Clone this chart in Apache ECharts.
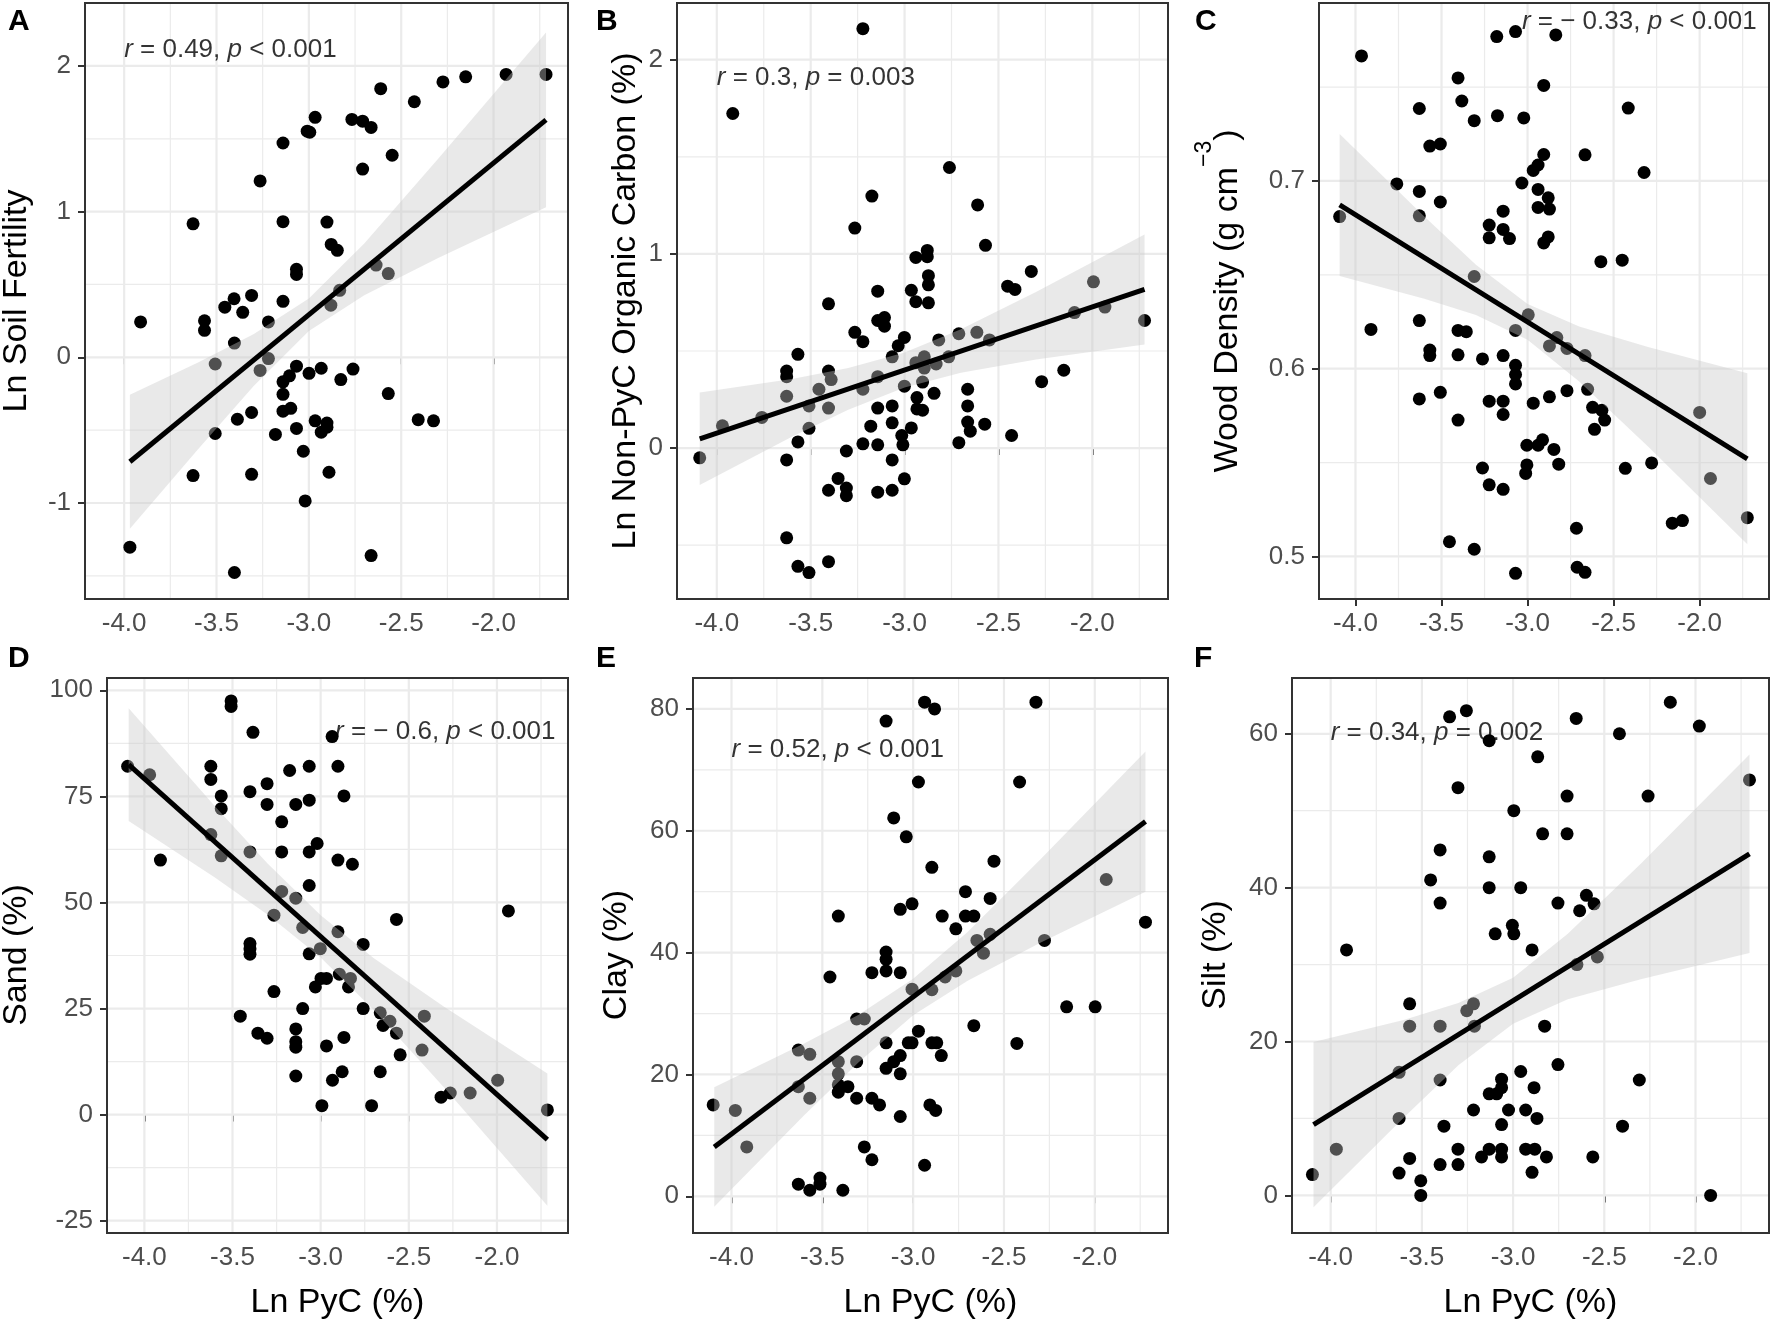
<!DOCTYPE html>
<html>
<head>
<meta charset="utf-8">
<script src="https://cdn.jsdelivr.net/npm/echarts@6/dist/echarts.min.js"></script>
<style>
  html, body { margin: 0; padding: 0; background: #fff; }
  #chart { width: 1772px; height: 1321px; }
</style>
</head>
<body>
<div id="chart"></div>
<script>
// ---- axis breaks ----
var xMajor = [-4, -3.5, -3, -2.5, -2];
var xMinor = [-3.75, -3.25, -2.75, -2.25, -1.75];

// ---- A: Ln soil fertility ----
var soilFertility = [[-3.969,-1.303],[-3.911,0.243],[-3.627,0.916],[-3.627,-0.812],[-3.565,0.251],[-3.565,0.185],[-3.507,-0.046],[-3.507,-0.523],[-3.455,0.344],[-3.405,0.402],[-3.403,0.098],[-3.387,-0.425],[-3.403,-1.477],[-3.358,0.309],[-3.31,0.425],[-3.31,-0.379],[-3.31,-0.803],[-3.264,1.211],[-3.264,-0.09],[-3.219,0.243],[-3.219,-0.009],[-3.181,-0.529],[-3.14,1.471],[-3.14,0.931],[-3.14,0.384],[-3.14,-0.168],[-3.14,-0.254],[-3.14,-0.37],[-3.105,-0.127],[-3.098,-0.35],[-3.067,0.604],[-3.067,0.569],[-3.067,-0.061],[-3.067,-0.488],[-3.03,-0.645],[-3.02,-0.986],[-3.009,1.552],[-2.995,1.545],[-2.999,-0.11],[-2.966,1.647],[-2.966,-0.436],[-2.933,-0.514],[-2.933,-0.075],[-2.902,0.928],[-2.902,-0.451],[-2.902,-0.48],[-2.891,-0.789],[-2.881,0.358],[-2.879,0.775],[-2.846,0.734],[-2.833,0.46],[-2.827,-0.153],[-2.767,1.633],[-2.709,1.621],[-2.709,1.292],[-2.761,-0.081],[-2.663,1.578],[-2.663,-1.361],[-2.636,0.633],[-2.611,1.844],[-2.57,0.575],[-2.57,-0.249],[-2.549,1.387],[-2.429,1.754],[-2.408,-0.428],[-2.325,-0.436],[-2.274,1.89],[-2.151,1.925],[-1.932,1.942],[-1.716,1.942]];
var fitSoil = [[-3.969,-0.717],[-1.716,1.63]];
var bandXSoil = [-3.969,-3.6,-3.3,-3.0,-2.7,-2.3,-1.716];
var bandLoSoil = [-1.177,-0.631,-0.198,0.18,0.426,0.681,1.03];
var bandHiSoil = [-0.257,-0.035,0.158,0.404,0.782,1.363,2.23];

// ---- B: Ln non-PyC organic carbon ----
var organicCarbon = [[-4.091,-0.05],[-3.97,0.115],[-3.915,1.723],[-3.76,0.158],[-3.628,0.397],[-3.628,0.368],[-3.628,0.267],[-3.628,-0.061],[-3.628,-0.462],[-3.568,0.483],[-3.568,0.032],[-3.568,-0.609],[-3.509,0.217],[-3.509,0.102],[-3.509,-0.641],[-3.456,0.303],[-3.405,0.743],[-3.405,0.397],[-3.391,0.353],[-3.405,0.206],[-3.405,-0.217],[-3.405,-0.585],[-3.354,-0.156],[-3.31,-0.015],[-3.31,-0.206],[-3.31,-0.245],[-3.265,0.596],[-3.265,1.133],[-3.222,0.548],[-3.222,0.303],[-3.222,0.022],[-3.222,2.16],[-3.174,1.298],[-3.18,0.113],[-3.143,0.808],[-3.143,0.657],[-3.143,0.368],[-3.143,0.206],[-3.143,0.017],[-3.143,-0.227],[-3.107,0.672],[-3.107,0.628],[-3.066,0.47],[-3.066,0.217],[-3.066,0.13],[-3.066,-0.061],[-3.066,-0.217],[-3.034,0.527],[-3.001,0.57],[-3.001,0.319],[-3.015,0.065],[-3.009,0.017],[-3.001,-0.158],[-2.964,0.813],[-2.964,0.104],[-2.94,0.982],[-2.94,0.754],[-2.94,0.44],[-2.934,0.26],[-2.934,0.202],[-2.904,0.195],[-2.904,0.34],[-2.895,0.47],[-2.895,0.412],[-2.879,1.018],[-2.879,0.986],[-2.873,0.888],[-2.873,0.841],[-2.873,0.748],[-2.843,0.282],[-2.832,0.433],[-2.818,0.557],[-2.765,0.47],[-2.761,1.445],[-2.711,0.589],[-2.711,0.028],[-2.664,0.303],[-2.664,0.217],[-2.664,0.134],[-2.65,0.087],[-2.615,0.596],[-2.611,1.252],[-2.573,0.123],[-2.569,1.044],[-2.548,0.557],[-2.451,0.834],[-2.412,0.817],[-2.43,0.065],[-2.325,0.91],[-2.27,0.342],[-2.152,0.401],[-2.095,0.698],[-1.994,0.856],[-1.933,0.726],[-1.722,0.657]];
var fitCarbon = [[-4.091,0.048],[-1.722,0.817]];
var bandXCarbon = [-4.091,-3.6,-3.3,-3.0,-2.7,-2.3,-1.722];
var bandLoCarbon = [-0.19,0.058,0.198,0.312,0.388,0.456,0.534];
var bandHiCarbon = [0.286,0.356,0.412,0.492,0.612,0.804,1.1];

// ---- C: wood density ----
var woodDensity = [[-4.092,0.681],[-3.965,0.7666],[-3.91,0.6209],[-3.76,0.6984],[-3.629,0.7386],[-3.629,0.6944],[-3.629,0.6814],[-3.629,0.6256],[-3.629,0.5839],[-3.568,0.7186],[-3.568,0.6099],[-3.568,0.607],[-3.507,0.7197],[-3.507,0.6888],[-3.507,0.5874],[-3.454,0.5078],[-3.404,0.7549],[-3.382,0.7426],[-3.404,0.6204],[-3.356,0.6197],[-3.404,0.6074],[-3.404,0.5726],[-3.31,0.7321],[-3.31,0.6491],[-3.31,0.5038],[-3.262,0.6052],[-3.262,0.5471],[-3.223,0.6765],[-3.223,0.6697],[-3.223,0.5827],[-3.223,0.5381],[-3.179,0.7769],[-3.175,0.7348],[-3.142,0.6839],[-3.142,0.6742],[-3.142,0.607],[-3.142,0.5827],[-3.142,0.5756],[-3.142,0.5357],[-3.105,0.6693],[-3.07,0.7796],[-3.07,0.6204],[-3.07,0.6018],[-3.07,0.5969],[-3.07,0.5919],[-3.07,0.491],[-3.033,0.6989],[-3.022,0.7336],[-3.004,0.5592],[-3.004,0.5487],[-3.011,0.5442],[-2.996,0.6287],[-2.967,0.5816],[-2.967,0.7056],[-2.939,0.7085],[-2.939,0.6955],[-2.939,0.6859],[-2.939,0.5592],[-2.913,0.5621],[-2.906,0.7509],[-2.906,0.7141],[-2.906,0.667],[-2.88,0.691],[-2.88,0.6702],[-2.873,0.685],[-2.873,0.585],[-2.873,0.6121],[-2.847,0.557],[-2.836,0.7778],[-2.83,0.6166],[-2.819,0.5491],[-2.771,0.6108],[-2.771,0.5883],[-2.716,0.515],[-2.712,0.4942],[-2.666,0.7139],[-2.666,0.607],[-2.666,0.4915],[-2.651,0.589],[-2.622,0.5794],[-2.611,0.5677],[-2.574,0.657],[-2.568,0.5778],[-2.552,0.5726],[-2.45,0.6578],[-2.432,0.5469],[-2.415,0.7388],[-2.323,0.7045],[-2.279,0.5498],[-2.159,0.5177],[-2.1,0.5191],[-2.0,0.5767],[-1.937,0.5415],[-1.723,0.5206]];
var fitWood = [[-4.092,0.6872],[-1.723,0.552]];
var bandXWood = [-4.092,-3.6,-3.3,-3.0,-2.7,-2.3,-1.723];
var bandLoWood = [0.6494,0.6372,0.6286,0.6154,0.5932,0.5585,0.5065];
var bandHiWood = [0.725,0.681,0.6554,0.6344,0.6224,0.6115,0.5975];

// ---- D: sand ----
var sand = [[-4.095,82.1],[-3.97,80.1],[-3.909,60],[-3.623,82.1],[-3.623,79],[-3.623,66],[-3.564,75.1],[-3.564,72.1],[-3.564,61],[-3.508,97.5],[-3.508,96.2],[-3.456,23.2],[-3.401,76.1],[-3.401,61.9],[-3.401,40.3],[-3.401,39.1],[-3.401,37.8],[-3.384,90.1],[-3.356,19.2],[-3.304,78],[-3.304,73.1],[-3.304,18],[-3.265,47],[-3.265,29],[-3.221,69],[-3.221,61.9],[-3.221,52.6],[-3.176,81.1],[-3.141,73.1],[-3.141,51],[-3.141,20.2],[-3.141,17.2],[-3.141,15.9],[-3.141,9.1],[-3.102,44.1],[-3.102,25],[-3.065,82.1],[-3.065,74.1],[-3.065,61.9],[-3.065,54],[-3.065,37.9],[-3.03,30.1],[-3.02,63.9],[-3.002,39.1],[-2.998,32.1],[-2.993,2.1],[-2.967,32.1],[-2.967,16.2],[-2.935,89.1],[-2.933,8.1],[-2.902,82.1],[-2.902,60],[-2.902,43.1],[-2.894,33.1],[-2.878,10.1],[-2.868,75.1],[-2.868,18.2],[-2.842,30.1],[-2.831,32.1],[-2.82,59],[-2.759,40.1],[-2.759,25],[-2.711,2.1],[-2.662,10.1],[-2.662,24],[-2.646,21],[-2.607,22],[-2.57,46],[-2.57,19.2],[-2.549,14.1],[-2.412,23.2],[-2.425,15.2],[-2.317,4.1],[-2.265,5.1],[-2.152,5.1],[-1.996,8.1],[-1.935,48],[-1.714,1.1]];
var fitSand = [[-4.089,82.5],[-1.714,-5.9]];
var bandXSand = [-4.089,-3.6,-3.3,-3.0,-2.7,-2.3,-1.714];
var bandLoSand = [69.2,55.9,47.1,37.0,24.7,6.4,-21.5];
var bandHiSand = [95.8,72.7,59.1,47.0,36.9,25.4,9.7];

// ---- E: clay ----
var clay = [[-4.101,15],[-3.979,14.1],[-3.916,8.1],[-3.632,24],[-3.632,18],[-3.632,2],[-3.569,23.3],[-3.569,16.1],[-3.569,1],[-3.513,3],[-3.513,2],[-3.458,36],[-3.412,46],[-3.412,22.1],[-3.412,20.1],[-3.412,18.3],[-3.412,17.1],[-3.387,1],[-3.359,18],[-3.311,16.1],[-3.311,22.1],[-3.311,29.1],[-3.269,29.1],[-3.269,8.1],[-3.227,36.7],[-3.227,16.1],[-3.227,6],[-3.185,15],[-3.149,78],[-3.149,40.1],[-3.149,38.9],[-3.149,37],[-3.149,25.2],[-3.149,21],[-3.107,62.1],[-3.107,22.1],[-3.071,47.1],[-3.071,36.7],[-3.071,23.1],[-3.071,20.1],[-3.071,13.1],[-3.038,59],[-3.027,25.2],[-3.006,48],[-3.006,34],[-3.006,25.2],[-2.971,68],[-2.971,27.1],[-2.937,81.1],[-2.937,5.1],[-2.908,15],[-2.897,54],[-2.897,33.9],[-2.897,25.2],[-2.882,80],[-2.876,14.1],[-2.87,25.2],[-2.845,23.1],[-2.84,46],[-2.824,36],[-2.765,43.9],[-2.765,37],[-2.712,50],[-2.712,46],[-2.666,46],[-2.666,28],[-2.649,42],[-2.613,39.9],[-2.576,48.9],[-2.576,43],[-2.555,55],[-2.429,25.1],[-2.414,68],[-2.324,81.1],[-2.277,42],[-2.155,31.1],[-1.998,31.1],[-1.937,52],[-1.721,45]];
var fitClay = [[-4.095,8.1],[-1.721,61.5]];
var bandXClay = [-4.095,-3.6,-3.3,-3.0,-2.7,-2.3,-1.721];
var bandLoClay = [-1.7,13.3,22.0,29.7,35.4,41.6,50.0];
var bandHiClay = [17.9,25.1,29.8,35.7,43.4,55.3,73.0];

// ---- F: silt ----
var silt = [[-4.1,2.7],[-3.969,6],[-3.913,31.9],[-3.625,2.9],[-3.625,16],[-3.625,10],[-3.567,24.9],[-3.567,22],[-3.567,4.8],[-3.506,1.9],[-3.506,0],[-3.452,41],[-3.4,44.9],[-3.4,38],[-3.4,22],[-3.4,15],[-3.4,4],[-3.379,9],[-3.348,62.2],[-3.302,53],[-3.302,6],[-3.302,4],[-3.256,63],[-3.254,24],[-3.217,24.9],[-3.212,22],[-3.217,11.1],[-3.173,5],[-3.131,59.1],[-3.131,44],[-3.131,40],[-3.131,13.2],[-3.131,6],[-3.098,34],[-3.09,13.2],[-3.063,15.1],[-3.063,14],[-3.063,9.2],[-3.063,6],[-3.063,5],[-3.025,11.1],[-3.004,35.1],[-2.996,34],[-2.996,50],[-2.958,40],[-2.958,16.1],[-2.931,11.1],[-2.931,6],[-2.896,31.9],[-2.896,3],[-2.885,14],[-2.881,6],[-2.869,10],[-2.865,57],[-2.838,47],[-2.827,22],[-2.817,5],[-2.754,17],[-2.754,38],[-2.704,51.9],[-2.704,47],[-2.654,62],[-2.65,30],[-2.635,37],[-2.598,39],[-2.556,37.9],[-2.563,5],[-2.538,31],[-2.417,60],[-2.4,9],[-2.308,15],[-2.26,51.9],[-2.138,64.1],[-1.979,61],[-1.917,0],[-1.704,54]];
var fitSilt = [[-4.094,9.2],[-1.704,44.4]];
var bandXSilt = [-4.094,-3.6,-3.3,-3.0,-2.7,-2.3,-1.704];
var bandLoSilt = [-1.55,10.1,16.9,22.3,25.5,28.1,31.5];
var bandHiSilt = [19.95,22.8,25.0,28.3,34.0,43.1,57.3];

var FONT = '"Liberation Sans", Arial, Helvetica, sans-serif';

var panels = [
  { letter: 'A', pts: soilFertility, fit: fitSoil, bx: bandXSoil, lo: bandLoSoil, hi: bandHiSoil,
    yMin: -1.659, yMax: 2.432, yMajor: [-1, 0, 1, 2], yMinor: [-1.5, -0.5, 0.5, 1.5], yFmt: function (v) { return String(v); },
    grid: { left: 85, top: 3, width: 483, height: 596 },
    note: '{i|r} = 0.49, {i|p} < 0.001', noteAt: [-4.0, 2.11], noteSide: 'right',
    yTitle: 'Ln Soil Fertility', yTitlePos: [17, 301], letterPos: [8, 22], xTitle: false },
  { letter: 'B', pts: organicCarbon, fit: fitCarbon, bx: bandXCarbon, lo: bandLoCarbon, hi: bandHiCarbon,
    yMin: -0.777, yMax: 2.292, yMajor: [0, 1, 2], yMinor: [-0.5, 0.5, 1.5], yFmt: function (v) { return String(v); },
    grid: { left: 677, top: 3, width: 491, height: 596 },
    note: '{i|r} = 0.3, {i|p} = 0.003', noteAt: [-4.0, 1.907], noteSide: 'right',
    yTitle: 'Ln Non-PyC Organic Carbon (%)', yTitlePos: [626, 301], letterPos: [596, 22], xTitle: false },
  { letter: 'C', pts: woodDensity, fit: fitWood, bx: bandXWood, lo: bandLoWood, hi: bandHiWood,
    yMin: 0.4773, yMax: 0.7948, yMajor: [0.5, 0.6, 0.7], yMinor: [0.55, 0.65, 0.75], yFmt: function (v) { return v.toFixed(1); },
    grid: { left: 1319, top: 3, width: 450, height: 596 },
    note: '{i|r} = \u2212 0.33, {i|p} < 0.001', noteAt: [-1.668, 0.785], noteSide: 'left',
    yTitle: 'Wood Density (g cm{sup|\u22123})', yTitlePos: [1228, 301], letterPos: [1195, 22], xTitle: false },
  { letter: 'D', pts: sand, fit: fitSand, bx: bandXSand, lo: bandLoSand, hi: bandHiSand,
    yMin: -27.9, yMax: 102.9, yMajor: [-25, 0, 25, 50, 75, 100], yMinor: [-12.5, 12.5, 37.5, 62.5, 87.5], yFmt: function (v) { return String(v); },
    grid: { left: 107, top: 678, width: 461, height: 555 },
    note: '{i|r} = \u2212 0.6, {i|p} < 0.001', noteAt: [-1.668, 90.3], noteSide: 'left',
    yTitle: 'Sand (%)', yTitlePos: [17, 955], letterPos: [8, 659], xTitle: true },
  { letter: 'E', pts: clay, fit: fitClay, bx: bandXClay, lo: bandLoClay, hi: bandHiClay,
    yMin: -6.02, yMax: 85.07, yMajor: [0, 20, 40, 60, 80], yMinor: [10, 30, 50, 70], yFmt: function (v) { return String(v); },
    grid: { left: 693, top: 678, width: 475, height: 555 },
    note: '{i|r} = 0.52, {i|p} < 0.001', noteAt: [-4.0, 73.35], noteSide: 'right',
    yTitle: 'Clay (%)', yTitlePos: [617, 955], letterPos: [596, 659], xTitle: true },
  { letter: 'F', pts: silt, fit: fitSilt, bx: bandXSilt, lo: bandLoSilt, hi: bandHiSilt,
    yMin: -4.89, yMax: 67.25, yMajor: [0, 20, 40, 60], yMinor: [10, 30, 50], yFmt: function (v) { return String(v); },
    grid: { left: 1292, top: 678, width: 477, height: 555 },
    note: '{i|r} = 0.34, {i|p} = 0.002', noteAt: [-4.0, 60.17], noteSide: 'right',
    yTitle: 'Silt (%)', yTitlePos: [1216, 955], letterPos: [1194, 659], xTitle: true }
];

var grids = [], xAxes = [], yAxes = [], series = [], graphics = [];

panels.forEach(function (p, i) {
  grids.push({
    left: p.grid.left, top: p.grid.top, width: p.grid.width, height: p.grid.height,
    show: true, borderColor: '#333333', borderWidth: 2, backgroundColor: 'transparent',
    containLabel: false, outerBoundsMode: 'none'
  });
  xAxes.push({
    type: 'value', gridIndex: i, min: -4.212, max: -1.597,
    axisLine: { show: false }, splitLine: { show: false },
    axisTick: { show: true, customValues: xMajor, length: 7, lineStyle: { color: '#333333', width: 2 } },
    axisLabel: { customValues: xMajor, formatter: function (v) { return v.toFixed(1); },
      fontSize: 26, color: '#4d4d4d', fontFamily: FONT, margin: 12 }
  });
  yAxes.push({
    type: 'value', gridIndex: i, min: p.yMin, max: p.yMax,
    axisLine: { show: false }, splitLine: { show: false },
    axisTick: { show: true, customValues: p.yMajor, length: 7, lineStyle: { color: '#333333', width: 2 } },
    axisLabel: { customValues: p.yMajor, formatter: p.yFmt,
      fontSize: 26, color: '#4d4d4d', fontFamily: FONT, margin: 14 }
  });

  // panel grid lines (major + minor), drawn through the axis scales
  series.push({
    type: 'custom', xAxisIndex: i, yAxisIndex: i, z: 1, silent: true, clip: false,
    data: [[xMajor[0], p.yMajor[0]]],
    renderItem: function (params, api) {
      var cs = params.coordSys;
      var kids = [];
      function vline(v, w) {
        var px = api.coord([v, p.yMajor[0]])[0];
        kids.push({ type: 'line', shape: { x1: px, y1: cs.y + 1, x2: px, y2: cs.y + cs.height - 1 },
          style: { stroke: '#ebebeb', lineWidth: w } });
      }
      function hline(v, w) {
        var py = api.coord([xMajor[0], v])[1];
        kids.push({ type: 'line', shape: { x1: cs.x + 1, y1: py, x2: cs.x + cs.width - 1, y2: py },
          style: { stroke: '#ebebeb', lineWidth: w } });
      }
      xMinor.forEach(function (v) { vline(v, 1.2); });
      p.yMinor.forEach(function (v) { hline(v, 1.2); });
      xMajor.forEach(function (v) { vline(v, 2.2); });
      p.yMajor.forEach(function (v) { hline(v, 2.2); });
      return { type: 'group', children: kids };
    }
  });

  series.push({
    type: 'scatter', xAxisIndex: i, yAxisIndex: i, z: 3, silent: true,
    data: p.pts, symbolSize: 13, itemStyle: { color: '#000000', opacity: 1 }
  });

  // confidence ribbon, drawn over the points like ggplot's geom_smooth
  series.push({
    type: 'custom', xAxisIndex: i, yAxisIndex: i, z: 4, silent: true, clip: false,
    data: p.bx.map(function (x, k) { return [x, p.lo[k], p.hi[k]]; }),
    renderItem: function (params, api) {
      if (params.dataIndex !== 0) return;
      var pts = [];
      for (var k = 0; k < p.bx.length; k++) pts.push(api.coord([p.bx[k], p.hi[k]]));
      for (var k2 = p.bx.length - 1; k2 >= 0; k2--) pts.push(api.coord([p.bx[k2], p.lo[k2]]));
      return { type: 'polygon', shape: { points: pts, smooth: 0 },
        style: { fill: 'rgba(200,200,200,0.4)' } };
    }
  });

  series.push({
    type: 'line', xAxisIndex: i, yAxisIndex: i, z: 5, silent: true,
    data: p.fit, symbol: 'none', lineStyle: { color: '#000000', width: 5 }
  });

  series.push({
    type: 'scatter', xAxisIndex: i, yAxisIndex: i, z: 6, silent: true,
    data: [p.noteAt], symbolSize: 0, itemStyle: { color: 'transparent' },
    label: {
      show: true, position: p.noteSide, distance: 0,
      formatter: p.note, color: '#000000', fontSize: 26, fontFamily: FONT,
      rich: {
        i: { fontStyle: 'italic', fontSize: 26, fontFamily: FONT, color: '#000000' }
      }
    }
  });

  graphics.push({
    type: 'text', x: p.letterPos[0], y: p.letterPos[1],
    style: { text: p.letter, fill: '#000', fontSize: 30, fontWeight: 'bold', fontFamily: FONT,
      textAlign: 'left', textVerticalAlign: 'middle' }
  });
  graphics.push({
    type: 'text', x: p.yTitlePos[0], y: p.yTitlePos[1], rotation: Math.PI / 2,
    style: { text: p.yTitle, fill: '#000', fontSize: 34, fontFamily: FONT,
      textAlign: 'center', textVerticalAlign: 'middle',
      rich: {
        sup: { fontSize: 23, fontFamily: FONT, fill: '#000', verticalAlign: 'top', lineHeight: 24 }
      },
      lineHeight: p.letter === 'C' ? 70 : 40 }
  });
  if (p.xTitle) {
    graphics.push({
      type: 'text', x: p.grid.left + p.grid.width / 2, y: 1303,
      style: { text: 'Ln PyC (%)', fill: '#000', fontSize: 34, fontFamily: FONT,
        textAlign: 'center', textVerticalAlign: 'middle' }
    });
  }
});

var chart = echarts.init(document.getElementById('chart'), null, { renderer: 'canvas' });
chart.setOption({
  animation: false,
  backgroundColor: '#ffffff',
  grid: grids,
  xAxis: xAxes,
  yAxis: yAxes,
  series: series,
  graphic: { elements: graphics }
});
</script>
</body>
</html>
